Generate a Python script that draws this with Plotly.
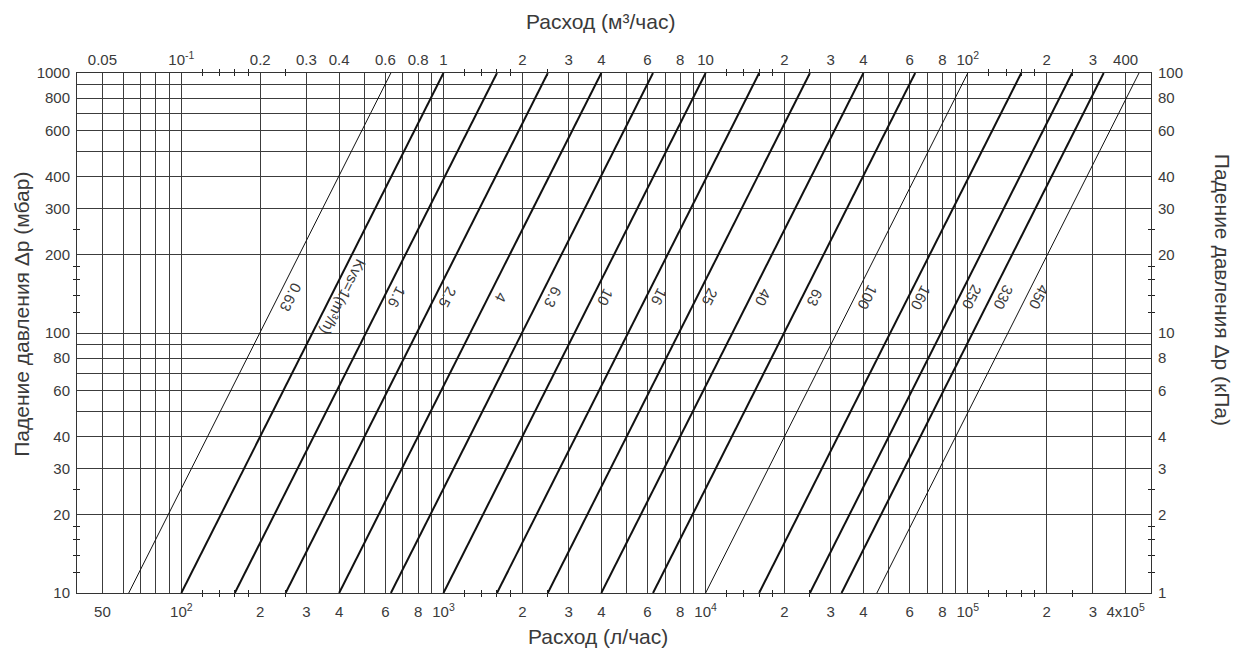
import math
import plotly.graph_objects as go

# ---------------- data ----------------
kvs_values = [0.63, 1, 1.6, 2.5, 4, 6.3, 10, 16, 25, 40, 63, 100, 160, 250, 330, 450]
kvs_labels = ["0.63", "Kvs=1(m³/h)", "1.6", "2.5", "4", "6.3", "10", "16",
              "25", "40", "63", "100", "160", "250", "330", "450"]
thin_kvs = [0.63, 100, 450]
dp_range_mbar = [10, 1000]
label_dp_mbar = 137

# bottom axis (l/h)
x_grid_lh = [50, 60, 70, 80, 90,
             100, 200, 300, 400, 500, 600, 700, 800, 900,
             1000, 2000, 3000, 4000, 5000, 6000, 7000, 8000, 9000,
             10000, 20000, 30000, 40000, 50000, 60000, 70000, 80000, 90000,
             100000, 200000, 300000, 400000]
x_text_lh = ["50", "", "", "", "",
             "10<sup>2</sup>", "2", "3", "4", "", "6", "", "8", "",
             "10<sup>3</sup>", "2", "3", "4", "", "6", "", "8", "",
             "10<sup>4</sup>", "2", "3", "4", "", "6", "", "8", "",
             "10<sup>5</sup>", "2", "3", "4x10<sup>5</sup>"]
x_minor_lh = [120, 140, 160, 180, 250,
              1200, 1400, 1600, 1800, 2500,
              12000, 14000, 16000, 18000, 25000,
              120000, 140000, 160000, 180000, 250000]

# top axis (m3/h)
x_grid_m3 = [v / 1000 for v in x_grid_lh]
x_text_m3 = ["0.05", "", "", "", "",
             "10<sup>-1</sup>", "0.2", "0.3", "0.4", "", "0.6", "", "0.8", "",
             "1", "2", "3", "4", "", "6", "", "8", "",
             "10", "2", "3", "4", "", "6", "", "8", "",
             "10<sup>2</sup>", "2", "3", "400"]
x_minor_m3 = [v / 1000 for v in x_minor_lh]

# left axis (mbar)
y_grid_mbar = [10, 20, 30, 40, 50, 60, 70, 80, 90,
               100, 200, 300, 400, 500, 600, 700, 800, 900, 1000]
y_text_mbar = ["10", "20", "30", "40", "", "60", "", "80", "",
               "100", "200", "300", "400", "", "600", "", "800", "", "1000"]
y_minor_mbar = [12, 14, 16, 18, 25, 120, 140, 160, 180, 250]

# right axis (kPa)
y_grid_kpa = [v / 10 for v in y_grid_mbar]
y_text_kpa = ["1", "2", "3", "4", "", "6", "", "8", "",
              "10", "20", "30", "40", "", "60", "", "80", "", "100"]
y_minor_kpa = [v / 10 for v in y_minor_mbar]

x_range_lh = [40, 500000]
y_range_mbar = [10, 1000]

# ---------------- figure ----------------
FONT = "Liberation Sans, Arial, Helvetica, sans-serif"
TXT = "#3a3a3a"
GRID = "#3c3c3c"

fig = go.Figure()

for k in kvs_values:
    q = [k * 1000 * math.sqrt(dp / 1000) for dp in dp_range_mbar]
    fig.add_trace(go.Scatter(
        x=q, y=dp_range_mbar, mode="lines",
        line=dict(color="#111111", width=1 if k in thin_kvs else 2),
        showlegend=False, hoverinfo="skip"))

# invisible trace to activate secondary axes
fig.add_trace(go.Scatter(x=[x_range_lh[0] / 1000], y=[y_range_mbar[0] / 10],
                         xaxis="x2", yaxis="y2", mode="markers",
                         marker=dict(opacity=0), showlegend=False, hoverinfo="skip"))

for k, lab in zip(kvs_values, kvs_labels):
    qx = k * 1000 * math.sqrt(label_dp_mbar / 1000)
    fig.add_annotation(x=math.log10(qx), y=math.log10(label_dp_mbar), xref="x", yref="y",
                       text=lab, showarrow=False, textangle=117, xshift=13,
                       xanchor="center", yanchor="middle",
                       font=dict(family=FONT, size=15, color=TXT))

common_axis = dict(type="log", showline=True, linecolor="#333333", linewidth=1,
                   ticks="", zeroline=False,
                   tickfont=dict(family=FONT, size=15, color=TXT))

# page body has an 8px margin: figure sized/offset so the plot area lands at
# x 77..1151, y 73..593 in the browser window
fig.update_layout(
    width=1233, height=648,
    margin=dict(l=69, r=90, t=65, b=63),
    paper_bgcolor="white", plot_bgcolor="white",
    xaxis=dict(**common_axis,
               range=[math.log10(x_range_lh[0]), math.log10(x_range_lh[1])],
               tickmode="array", tickvals=x_grid_lh, ticktext=x_text_lh,
               showgrid=True, gridcolor=GRID, gridwidth=1,
               mirror="ticks", ticklabelstandoff=5,
               minor=dict(tickmode="array", tickvals=x_minor_lh, ticks="outside",
                          ticklen=3, tickcolor="#222", showgrid=False)),
    xaxis2=dict(**common_axis, overlaying="x", side="top", anchor="y",
                range=[math.log10(x_range_lh[0] / 1000), math.log10(x_range_lh[1] / 1000)],
                tickmode="array", tickvals=x_grid_m3, ticktext=x_text_m3,
                showgrid=False, mirror="ticks", ticklabelstandoff=1,
                minor=dict(tickmode="array", tickvals=x_minor_m3, ticks="inside",
                           ticklen=3, tickcolor="#222", showgrid=False)),
    yaxis=dict(**common_axis,
               range=[math.log10(y_range_mbar[0]), math.log10(y_range_mbar[1])],
               tickmode="array", tickvals=y_grid_mbar, ticktext=y_text_mbar,
               showgrid=True, gridcolor=GRID, gridwidth=1,
               mirror="ticks", ticklabelstandoff=3,
               minor=dict(tickmode="array", tickvals=y_minor_mbar, ticks="outside",
                          ticklen=3, tickcolor="#222", showgrid=False)),
    yaxis2=dict(**common_axis, overlaying="y", side="right", anchor="x",
                range=[math.log10(y_range_mbar[0] / 10), math.log10(y_range_mbar[1] / 10)],
                tickmode="array", tickvals=y_grid_kpa, ticktext=y_text_kpa,
                showgrid=False, mirror="ticks", ticklabelstandoff=3,
                minor=dict(tickmode="array", tickvals=y_minor_kpa, ticks="inside",
                           ticklen=3, tickcolor="#222", showgrid=False)),
)

title_font = dict(family=FONT, size=21, color=TXT)
fig.add_annotation(text="Расход (м³/час)", xref="paper", yref="paper",
                   x=0.487, y=1, yshift=52, xanchor="center", yanchor="middle",
                   showarrow=False, font=title_font)
fig.add_annotation(text="Расход (л/час)", xref="paper", yref="paper",
                   x=0.485, y=0, yshift=-43, xanchor="center", yanchor="middle",
                   showarrow=False, font=title_font)
fig.add_annotation(text="Падение давления Δp (мбар)", xref="paper", yref="paper",
                   x=0, xshift=-55, y=0.535, textangle=-90, xanchor="center",
                   yanchor="middle", showarrow=False, font=title_font)
fig.add_annotation(text="Падение давления Δp (кПа)", xref="paper", yref="paper",
                   x=1, xshift=71, y=0.583, textangle=90, xanchor="center",
                   yanchor="middle", showarrow=False, font=title_font)

fig.write_html("out.html")
